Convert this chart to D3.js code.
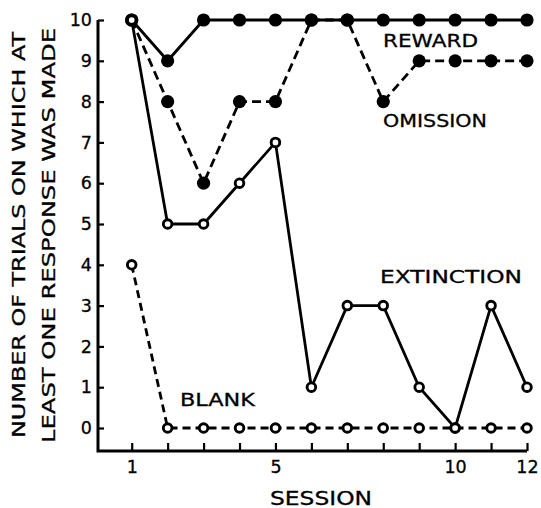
<!DOCTYPE html>
<html>
<head>
<meta charset="utf-8">
<script src="https://cdn.jsdelivr.net/npm/d3@7"></script>
<style>
  body { margin: 0; background: #fff; }
  text { font-family: "DejaVu Sans", sans-serif; fill: #000; }
</style>
</head>
<body>
<svg id="chart" width="541" height="508"></svg>
<script>
// number of trials (out of 10) with at least one response, per session
const sessions = d3.range(1, 13);
const reward     = [10, 9, 10, 10, 10, 10, 10, 10, 10, 10, 10, 10];
const omission   = [10, 8, 6, 8, 8, 10, 10, 8, 9, 9, 9, 9];
const extinction = [10, 5, 5, 6, 7, 1, 3, 3, 1, 0, 3, 1];
const blank      = [4, 0, 0, 0, 0, 0, 0, 0, 0, 0, 0, 0];
const xLabels = [1, 5, 10, 12];
const yTicks = d3.range(0, 11);

const svg = d3.select('#chart');
const axisX = 98, axisY = 451;

const x = d3.scaleLinear().domain([1, 12]).range([131.7, 527]);
const y = d3.scaleLinear().domain([0, 10]).range([428, 20]);

// axis lines
svg.append('path')
    .attr('d', `M${axisX},${y(10)}V${axisY}H${x(12)}`)
    .attr('fill', 'none').attr('stroke', '#000').attr('stroke-width', 3);

const yAxis = svg.append('g')
    .attr('transform', `translate(${axisX},0)`)
    .call(d3.axisLeft(y).tickValues(yTicks).tickSize(-6).tickSizeOuter(0).tickPadding(6));
const xAxis = svg.append('g')
    .attr('transform', `translate(0,${axisY})`)
    .call(d3.axisBottom(x).tickValues(sessions).tickSize(-8).tickSizeOuter(0).tickPadding(10)
        .tickFormat(d => xLabels.includes(d) ? d : ''));

[yAxis, xAxis].forEach(g => {
    g.select('.domain').remove();
    g.selectAll('line').attr('stroke', '#000').attr('stroke-width', 2.2);
    g.selectAll('text').attr('font-size', 17.5).attr('font-family', '"DejaVu Sans", sans-serif')
        .attr('fill', '#000').attr('stroke', '#000').attr('stroke-width', 0.3);
});

const series = [
    {values: reward, dash: null, filled: true},
    {values: omission, dash: '9,5', filled: true},
    {values: extinction, dash: null, filled: false},
    {values: blank, dash: '8,5', filled: false}
];

const line = d3.line().x((d, i) => x(sessions[i])).y(d => y(d));

series.forEach(s => {
    svg.append('path')
        .attr('d', line(s.values))
        .attr('fill', 'none')
        .attr('stroke', '#000')
        .attr('stroke-width', 2.8)
        .attr('stroke-dasharray', s.dash);
});

series.forEach(s => {
    svg.append('g').selectAll('circle').data(s.values).enter().append('circle')
        .attr('cx', (d, i) => x(sessions[i]))
        .attr('cy', d => y(d))
        .attr('r', s.filled ? 6.6 : 4.3)
        .attr('fill', s.filled ? '#000' : '#fff')
        .attr('stroke', '#000')
        .attr('stroke-width', s.filled ? 0 : 2.9);
});

// series labels
const labels = [
    {t: 'REWARD', x: 383, y: 47, w: 95},
    {t: 'OMISSION', x: 383, y: 127, w: 104},
    {t: 'EXTINCTION', x: 380, y: 283, w: 142},
    {t: 'BLANK', x: 180, y: 406, w: 75}
];
svg.selectAll('.lab').data(labels).enter().append('text')
    .attr('class', 'lab')
    .attr('x', d => d.x).attr('y', d => d.y)
    .attr('font-size', 17)
    .attr('stroke', '#000').attr('stroke-width', 0.3)
    .attr('textLength', d => d.w).attr('lengthAdjust', 'spacingAndGlyphs')
    .text(d => d.t);

// axis titles
svg.append('text')
    .attr('x', 270).attr('y', 505)
    .attr('font-size', 19)
    .attr('stroke', '#000').attr('stroke-width', 0.3)
    .attr('textLength', 102).attr('lengthAdjust', 'spacingAndGlyphs')
    .text('SESSION');

svg.append('text')
    .attr('transform', 'translate(25,438) rotate(-90)')
    .attr('font-size', 17)
    .attr('stroke', '#000').attr('stroke-width', 0.3)
    .attr('textLength', 406).attr('lengthAdjust', 'spacingAndGlyphs')
    .text('NUMBER OF TRIALS ON WHICH AT');
svg.append('text')
    .attr('transform', 'translate(54.5,443) rotate(-90)')
    .attr('font-size', 17)
    .attr('stroke', '#000').attr('stroke-width', 0.3)
    .attr('textLength', 415).attr('lengthAdjust', 'spacingAndGlyphs')
    .text('LEAST ONE RESPONSE WAS MADE');
</script>
</body>
</html>
